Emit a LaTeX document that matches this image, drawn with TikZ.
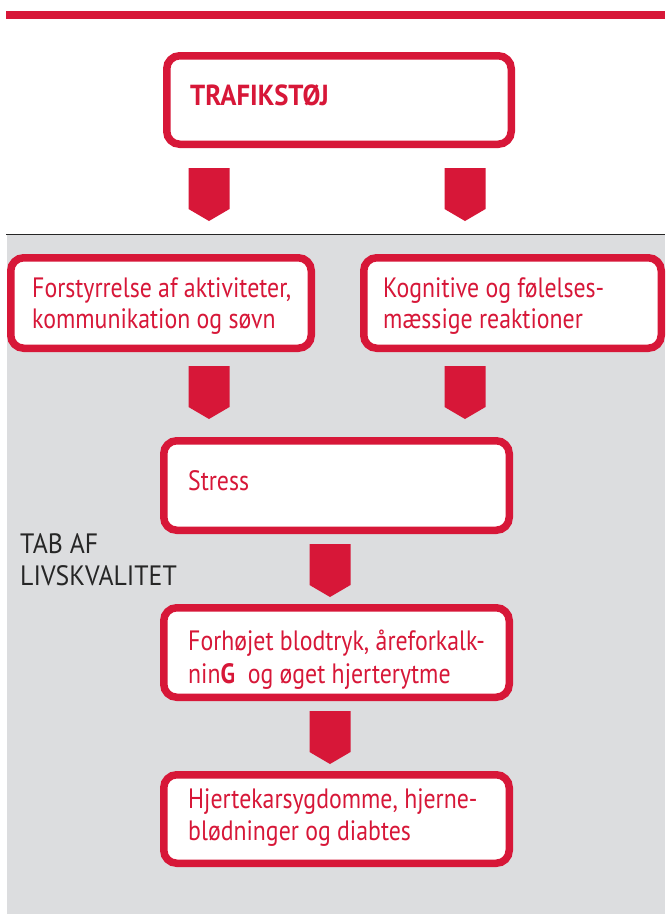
\documentclass[tikz,border=0pt]{standalone}
\usepackage{fontspec}
\setmainfont[FakeStretch=0.85]{PT Sans}
\newfontfamily\headfont[FakeStretch=0.92]{PT Sans}
\newfontfamily\sidefont[FakeStretch=0.92]{PT Sans}
\definecolor{redc}{RGB}{215,23,56}
\definecolor{greyc}{RGB}{220,221,223}
\begin{document}
\begin{tikzpicture}[x=1pt,y=-1pt,
  box/.style={draw=redc,line width=7.5pt,rounded corners=13pt,fill=white,inner sep=0pt},
  txt/.style={anchor=base west,inner sep=0pt,text=redc,font=\fontsize{28}{32}\selectfont},
  side/.style={anchor=base west,inner sep=0pt,text=black!85,font=\sidefont\fontsize{28}{32}\selectfont}]
\useasboundingbox (0,0) rectangle (665,914);
\fill[white] (0,0) rectangle (665,914);
% top red bar
\fill[redc] (6,11) rectangle (665,19);
% grey panel with black rule
\fill[greyc] (7,234.5) rectangle (665,914);
\draw[line width=1.2pt,black!85] (6,234.5) -- (665,234.5);
% boxes
\node[box,minimum width=344.5pt,minimum height=88.5pt] (trafik) at (339,100) {};
\node[box,minimum width=300.5pt,minimum height=90.5pt] (forst) at (161,303) {};
\node[box,minimum width=297.5pt,minimum height=90.5pt] (kogn) at (512.5,303) {};
\node[box,minimum width=345.5pt,minimum height=89.5pt] (stress) at (336.5,485.5) {};
\node[box,minimum width=345.5pt,minimum height=89.5pt] (forh) at (336.5,652.5) {};
\node[box,minimum width=345.5pt,minimum height=88.5pt] (hjerte) at (336.5,819) {};
% texts
\node[txt,font=\headfont\fontsize{29}{32}\selectfont\bfseries] (ttrafik) at (190,105) {TRAFIKSTØJ};
\node[txt] (tforsta) at (32,297) {Forstyrrelse af aktiviteter,};
\node[txt] (tforstb) at (32,328) {kommunikation og søvn};
\node[txt] (tkogna) at (383,297) {Kognitive og følelses-};
\node[txt] (tkognb) at (383,328) {mæssige reaktioner};
\node[txt] (tstress) at (188,490) {Stress};
\node[side] (tsidea) at (20,553) {TAB AF};
\node[side] (tsideb) at (20,585) {LIVSKVALITET};
\node[txt] (tforha) at (188,650) {Forhøjet blodtryk, åreforkalk-};
\node[txt] (tforhb) at (188,683) {nin\textbf{G}\ \ og øget hjerterytme};
\node[txt] (thjera) at (188,808) {Hjertekarsygdomme, hjerne-};
\node[txt] (thjerb) at (188,840) {blødninger og diabtes};
% block arrows
\coordinate (a1) at (209,168);
\coordinate (a2) at (465,168);
\coordinate (a3) at (209,366);
\coordinate (a4) at (465,366);
\coordinate (a5) at (330,544);
\coordinate (a6) at (330,711);
\foreach \a in {a1,a2,a3,a4,a5,a6}{
  \fill[redc] (\a) ++(-20.5,0) -- ++(41,0) -- ++(0,41) -- ++(-20.5,12) -- ++(-20.5,-12) -- cycle;
}
\end{tikzpicture}
\end{document}
